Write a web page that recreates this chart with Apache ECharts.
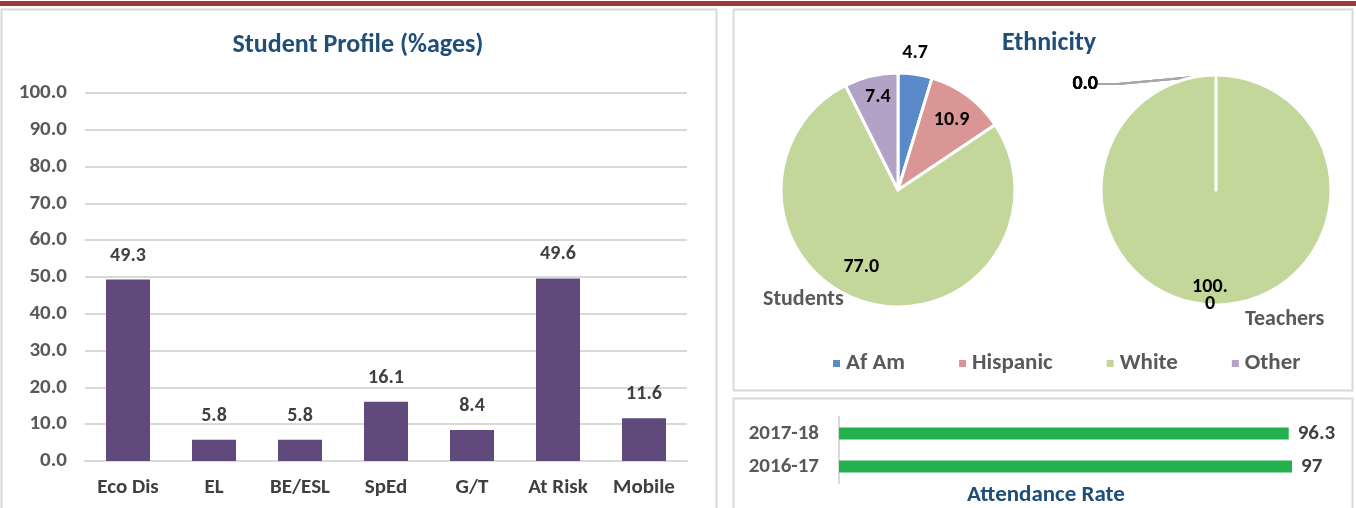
<!DOCTYPE html>
<html>
<head>
<meta charset="utf-8">
<script src="https://cdn.jsdelivr.net/npm/echarts@6/dist/echarts.min.js"></script>
<style>
html, body { margin: 0; padding: 0; background: #fff; }
#main { width: 1356px; height: 508px; }
</style>
</head>
<body>
<div id="main"></div>
<script>
// student profile
var profileCats = ['Eco Dis', 'EL', 'BE/ESL', 'SpEd', 'G/T', 'At Risk', 'Mobile'];
var profileVals = [49.3, 5.8, 5.8, 16.1, 8.4, 49.6, 11.6];
var profileMin = 0, profileMax = 100, profileStep = 10;

// ethnicity
var ethnicGroups = ['Af Am', 'Hispanic', 'White', 'Other'];
var studentVals = [4.7, 10.9, 77.0, 7.4];
var teacherVals = [0, 0, 100, 0];

// attendance
var yearCats = ['2017-18', '2016-17'];
var attendVals = [96.3, 97];

var font = 'Carlito, Lato, "Open Sans", sans-serif';
var pieColors = ['#5a8ac9', '#da9694', '#c4d79b', '#b2a2c7'];
// label nudges so they sit where excel put them
var studentLabelShift = [[8, -76], [17, -21], [-21, 18], [-6, -33]];

var myChart = echarts.init(document.getElementById('main'));

var option = {
  animation: false,
  color: pieColors,
  textStyle: { fontFamily: font },
  graphic: [
    { type: 'rect', shape: { x: 0, y: 1, width: 1356, height: 5 }, style: { fill: '#a23a3a' } },
    { type: 'rect', shape: { x: 1.5, y: 9.5, width: 715, height: 510 }, style: { fill: 'none', stroke: '#d9d9d9', lineWidth: 2 } },
    { type: 'rect', shape: { x: 733.5, y: 9.5, width: 619, height: 381 }, style: { fill: 'none', stroke: '#d9d9d9', lineWidth: 2 } },
    { type: 'rect', shape: { x: 733.5, y: 398.5, width: 619, height: 120 }, style: { fill: 'none', stroke: '#d9d9d9', lineWidth: 2 } }
  ],
  title: [
    { text: 'Student Profile (%ages)', left: 358, top: 32, textAlign: 'center', padding: 0,
      textStyle: { fontFamily: font, fontSize: 26, fontWeight: 'bold', color: '#1f4e79' } },
    { text: 'Ethnicity', left: 1049, top: 30, textAlign: 'center', padding: 0,
      textStyle: { fontFamily: font, fontSize: 26, fontWeight: 'bold', color: '#1f4e79' } },
    { text: 'Attendance Rate', left: 1046, top: 484, textAlign: 'center', padding: 0,
      textStyle: { fontFamily: font, fontSize: 23, fontWeight: 'bold', color: '#1f4e79' } },
    { text: 'Students', left: 763, top: 288, padding: 0,
      textStyle: { fontFamily: font, fontSize: 22, fontWeight: 'bold', color: '#595959' } },
    { text: 'Teachers', left: 1245, top: 308, padding: 0,
      textStyle: { fontFamily: font, fontSize: 22, fontWeight: 'bold', color: '#595959' } }
  ],
  legend: {
    data: ethnicGroups,
    left: 826,
    top: 347,
    icon: 'rect',
    itemWidth: 9,
    itemHeight: 9,
    itemGap: 52,
    selectedMode: false,
    textStyle: { fontFamily: font, fontSize: 23, fontWeight: 'bold', color: '#595959' }
  },
  grid: [
    { left: 85, top: 93, width: 602, height: 368 },
    { left: 839, top: 417, width: 467, height: 66 }
  ],
  xAxis: [
    {
      type: 'category', gridIndex: 0, data: profileCats,
      axisTick: { show: false },
      axisLine: { lineStyle: { color: '#d9d9d9', width: 2 } },
      axisLabel: { margin: 16, fontFamily: font, fontSize: 21, fontWeight: 'bold', color: '#404040' }
    },
    { type: 'value', gridIndex: 1, min: 0, max: 100, show: false }
  ],
  yAxis: [
    {
      type: 'value', gridIndex: 0, min: profileMin, max: profileMax, interval: profileStep,
      axisLine: { show: false }, axisTick: { show: false },
      splitLine: { lineStyle: { color: '#d9d9d9', width: 2 } },
      axisLabel: {
        margin: 18, fontFamily: font, fontSize: 21, fontWeight: 'bold', color: '#595959',
        formatter: function (v) { return v.toFixed(1); }
      }
    },
    {
      type: 'category', gridIndex: 1, data: yearCats, inverse: true,
      axisTick: { show: false },
      axisLine: { lineStyle: { color: '#d9d9d9', width: 2 } },
      axisLabel: { margin: 20, fontFamily: font, fontSize: 21, fontWeight: 'bold', color: '#595959' }
    }
  ],
  series: [
    {
      type: 'bar', xAxisIndex: 0, yAxisIndex: 0,
      data: profileVals,
      barWidth: 44,
      itemStyle: { color: '#604a7b' },
      label: {
        show: true, position: 'top', distance: 14,
        fontFamily: font, fontSize: 20, fontWeight: 'bold', color: '#404040',
        formatter: function (p) { return p.value.toFixed(1); }
      }
    },
    {
      type: 'bar', xAxisIndex: 1, yAxisIndex: 1,
      data: attendVals,
      barWidth: 12,
      itemStyle: { color: '#22b14c' },
      label: {
        show: true, position: 'right', distance: 9,
        fontFamily: font, fontSize: 21, fontWeight: 'bold', color: '#404040'
      }
    },
    {
      type: 'pie', name: 'Students',
      center: [898, 190], radius: 117, startAngle: 90, clockwise: true,
      avoidLabelOverlap: false,
      itemStyle: { borderColor: '#fff', borderWidth: 3 },
      label: {
        position: 'inside', fontFamily: font, fontSize: 20, fontWeight: 'bold', color: '#000',
        formatter: function (p) { return p.value.toFixed(1); }
      },
      labelLine: { show: false },
      data: ethnicGroups.map(function (n, i) {
        return { name: n, value: studentVals[i], label: { offset: studentLabelShift[i] } };
      })
    },
    {
      type: 'pie', name: 'Teachers',
      center: [1216, 190], radius: 115, startAngle: 90, clockwise: true,
      avoidLabelOverlap: false,
      itemStyle: { borderColor: '#fff', borderWidth: 3 },
      label: {
        position: 'outside', fontFamily: font, fontSize: 20, fontWeight: 'bold', color: '#000',
        formatter: function (p) { return p.value.toFixed(1); }
      },
      labelLine: { show: true, length: 8, length2: 20, lineStyle: { color: '#a6a6a6', width: 2 } },
      labelLayout: function (params) {
        if (params.dataIndex !== 2) {
          return { x: 1098, y: 84, align: 'right', verticalAlign: 'middle' };
        }
      },
      data: ethnicGroups.map(function (n, i) {
        var item = { name: n, value: teacherVals[i] };
        if (i === 2) {
          item.label = {
            position: 'inside', offset: [-6, 45],
            formatter: function (p) { var s = p.value.toFixed(1); return s.slice(0, 4) + '\n' + s.slice(4); },
            lineHeight: 17
          };
          item.labelLine = { show: false };
        }
        return item;
      })
    }
  ]
};

myChart.setOption(option);
</script>
</body>
</html>
